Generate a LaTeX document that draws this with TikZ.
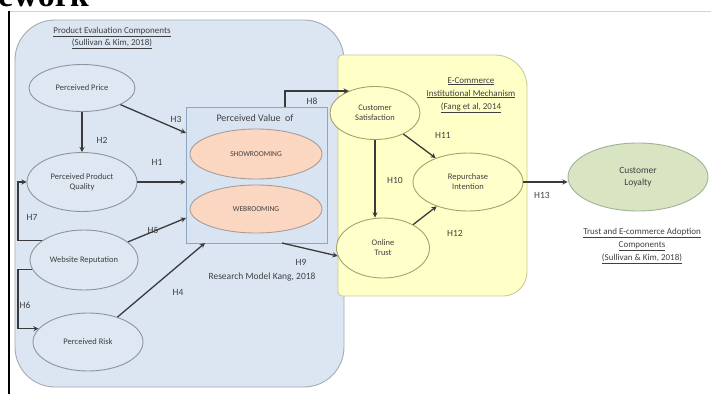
\documentclass[tikz,border=0pt]{standalone}
\usepackage{fontspec}
\setmainfont{Carlito}
\newfontfamily\titlefont{Liberation Serif}
\usetikzlibrary{shapes.geometric,calc}

\definecolor{regblue}{HTML}{DCE6F2}
\definecolor{regline}{HTML}{A3ABB5}
\definecolor{boxblue}{HTML}{D9E4F2}
\definecolor{boxline}{HTML}{8FA6C0}
\definecolor{ellblue}{HTML}{DEE7F2}
\definecolor{ellline}{HTML}{8C949E}
\definecolor{peach}{HTML}{FBD6C0}
\definecolor{peachline}{HTML}{A89C98}
\definecolor{regyellow}{HTML}{FFFFC8}
\definecolor{yelline}{HTML}{C9C99A}
\definecolor{ellyellow}{HTML}{FFFFCC}
\definecolor{ellolive}{HTML}{A3A36A}
\definecolor{loyalgreen}{HTML}{D8E4C2}
\definecolor{loyalline}{HTML}{9FB394}
\definecolor{txtgray}{HTML}{404040}
\definecolor{arrgray}{HTML}{3A3A3A}

\begin{document}
\begin{tikzpicture}[x=1pt, y=-1pt, >=stealth,
    font=\fontsize{8.5}{10}\selectfont, text=txtgray,
    region/.style={draw=regline, line width=0.9pt},
    ell/.style={ellipse, draw=ellline, fill=ellblue, line width=0.9pt,
      align=center, inner sep=0pt},
    channel/.style={ellipse, draw=peachline, fill=peach, line width=0.9pt,
      inner sep=0pt, minimum width=132, minimum height=50,
      font=\fontsize{7.5}{9}\selectfont},
    yell/.style={ell, draw=ellolive, fill=ellyellow},
    arr/.style={->, draw=arrgray, line width=1.3pt},
    hlabel/.style={font=\fontsize{9.5}{11}\selectfont},
    source/.style={align=center, font=\fontsize{9}{13}\selectfont}]
  \useasboundingbox (0,0) rectangle (711,394);
  \clip (0,0) rectangle (711,394);

  % page frame and cut title
  \node[anchor=base west, inner sep=0pt, text=black,
    font=\titlefont\bfseries\fontsize{34}{34}\selectfont] (ttl) at (-2,6) {ework};
  \draw[gray!35, line width=0.9pt] (10,11) -- (711,11);
  \draw[black, line width=1.6pt] (9,11) -- (9,394);

  % component regions
  \draw[region, fill=regblue, rounded corners=40] (15,20) rectangle (344,387);
  \draw[region, draw=yelline, fill=regyellow]
    (338,296) [rounded corners=4] -- (338,55) [rounded corners=32] -- (527,55)
    [rounded corners=24] -- (527,296) [rounded corners=4] -- cycle;

  \node[source, font=\fontsize{9}{12}\selectfont] (srcprod) at (112,38)
    {\underline{Product Evaluation Components}\\\underline{(Sullivan \& Kim, 2018)}};
  \node[source] (srcec) at (471,95)
    {\underline{E-Commerce}\\\underline{Institutional Mechanism}\\\underline{(Fang et al, 2014}};
  \node[source] (srctrust) at (642,246)
    {\underline{Trust and E-commerce Adoption}\\\underline{Components}\\\underline{(Sullivan \& Kim, 2018)}};
  \node[font=\fontsize{9.5}{11}\selectfont] (model) at (262,277) {Research Model Kang, 2018};

  % product evaluation constructs
  \node[ell, minimum width=106, minimum height=47] (price) at (82,88) {Perceived Price};
  \node[ell, minimum width=110, minimum height=59] (ppq) at (82,182) {Perceived Product\\Quality};
  \node[ell, minimum width=108, minimum height=60] (web) at (84,260) {Website Reputation};
  \node[ell, minimum width=110, minimum height=58] (risk) at (88,342) {Perceived Risk};

  % perceived value box
  \node[draw=boxline, fill=boxblue, line width=0.9pt, minimum width=141,
    minimum height=136, inner sep=0pt] (pv) at (256.5,175) {};
  \node[font=\fontsize{10}{12}\selectfont] (pvtitle) at (255,118) {Perceived Value\ \ of};
  \node[channel] (show) at (256,154) {SHOWROOMING};
  \node[channel, minimum height=48] (webr) at (256,209) {WEBROOMING};

  % institutional mechanism constructs
  \node[yell, minimum width=90, minimum height=53] (csat) at (375,113) {Customer\\Satisfaction};
  \node[yell, minimum width=110, minimum height=58] (rep) at (468,182) {Repurchase\\Intention};
  \node[yell, minimum width=93, minimum height=60] (ot) at (383,248) {Online\\Trust};
  \node[ell, draw=loyalline, fill=loyalgreen, minimum width=140, minimum height=68,
    font=\fontsize{9.5}{12}\selectfont] (loyal) at (638,177) {Customer\\Loyalty};

  % helper points on the box and the left bus
  \coordinate (leftbus) at (18,0);
  \coordinate (pvH3) at (186,133);
  \coordinate (pvH5) at (186,218);
  \coordinate (pvH4) at (205,243);
  \coordinate (pvH8) at (285,107);
  \coordinate (pvH9) at (282,243);

  % hypotheses
  \draw[arr] (price) -- (pvH3);
  \draw[arr] (price) -- (ppq);
  \draw[arr] (ppq.east) -- (ppq.east -| pv.west);
  \draw[arr] (web) -- (pvH5);
  \draw[arr] (risk) -- (pvH4);
  \draw[arr] (web.155) -- (web.155 -| leftbus) |- (ppq.west);
  \draw[arr] (web.190) -- (web.190 -| leftbus) |- (risk.165);
  \draw[arr] (pvH8) |- (csat.140);
  \draw[arr] (pvH9) -- (ot.190);
  \draw[arr] (csat.south) -- (csat.south |- ot.north);
  \draw[arr] (csat) -- (rep);
  \draw[arr] (ot) -- (rep);
  \draw[arr] (rep.east) -- (rep.east -| loyal.west);

  \node[hlabel] (h1) at (157,162) {H1};
  \node[hlabel] (h2) at (102,140) {H2};
  \node[hlabel] (h3) at (176,119) {H3};
  \node[hlabel] (h4) at (178,292) {H4};
  \node[hlabel] (h5) at (153,230) {H5};
  \node[hlabel] (h6) at (25,305) {H6};
  \node[hlabel] (h7) at (32,217) {H7};
  \node[hlabel] (h8) at (312,101) {H8};
  \node[hlabel] (h9) at (301,262) {H9};
  \node[hlabel] (h10) at (395,180) {H10};
  \node[hlabel] (h11) at (443,135) {H11};
  \node[hlabel] (h12) at (455,233) {H12};
  \node[hlabel] (h13) at (542,195) {H13};
\end{tikzpicture}
\end{document}
